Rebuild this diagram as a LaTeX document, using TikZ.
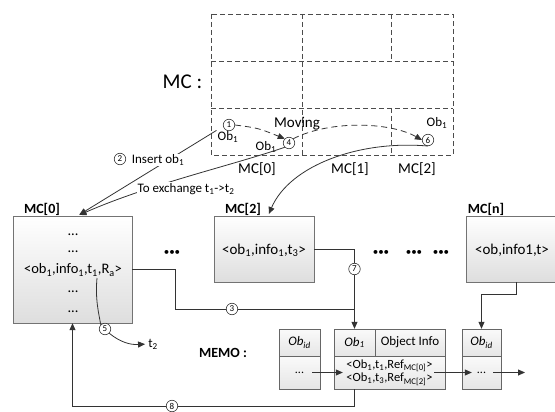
\documentclass[tikz,border=0pt]{standalone}
\usepackage{fontspec}
\setmainfont{Carlito}
\usetikzlibrary{arrows.meta}
\newcommand\myfs[1]{\fontsize{#1}{#1}\selectfont}
\begin{document}
\begin{tikzpicture}[x=1pt,y=-1pt,
  mcbox/.style={draw=black!55, top color=white, bottom color=black!13, inner sep=0pt},
  cellbox/.style={draw=black!60, top color=black!2, bottom color=black!10, inner sep=0pt},
  circ/.style={circle, draw=black!80, fill=white, inner sep=0pt, minimum size=11.5pt, font=\myfs{9}, line width=0.6pt},
  conn/.style={draw=black!80, line width=0.8pt},
  arr/.style={-{Triangle[length=7pt,width=6pt]}},
  gridline/.style={draw=black!70, line width=0.8pt, dash pattern=on 5pt off 3pt},
  dline/.style={draw=black!80, line width=0.8pt, dash pattern=on 6pt off 4pt},
  txt/.style={inner sep=1pt, font=\myfs{13}},
  big/.style={inner sep=1pt, font=\myfs{15}},
  lbl/.style={inner sep=1pt, font=\bfseries\myfs{14}},
]
\useasboundingbox (0,0) rectangle (555,412);
\clip (0,0) rectangle (555,412);

% ---------- grid MC ----------
\draw[gridline] (211,14) rectangle (453,155);
\draw[gridline] (211,61) -- (453,61);
\draw[gridline] (211,108) -- (453,108);
\draw[gridline] (302,14) -- (302,155);
\draw[gridline] (391,14) -- (391,61);
\draw[gridline] (391,108) -- (391,155);
\node[inner sep=1pt, font=\myfs{21}] (mclbl) at (182.5,82) {MC :};
\node[big] (g0) at (257,169) {MC[0]};
\node[big] (g1) at (350,169) {MC[1]};
\node[big] (g2) at (417,169) {MC[2]};
\node[big] (moving) at (297,124) {Moving};
\node[txt] (ob1a) at (228,137) {Ob\textsubscript{1}};
\node[txt] (ob1b) at (266,147) {Ob\textsubscript{1}};
\node[txt] (ob1c) at (437,123) {Ob\textsubscript{1}};
\node[circ] (c1) at (229,125) {1};
\node[circ] (c4) at (289,143) {4};
\node[circ] (c6) at (428,140) {6};

% ---------- MC boxes ----------
\node[mcbox, minimum width=119pt, minimum height=107pt] (mc0) at (72.5,269.5) {};
\node[mcbox, minimum width=100pt, minimum height=66pt] (mc2) at (264,249) {};
\node[mcbox, minimum width=114pt, minimum height=66pt] (mcn) at (523,249) {};
\node[lbl] (mc0l) at (42,209) {MC[0]};
\node[lbl] (mc2l) at (243,209) {MC[2]};
\node[lbl] (mcnl) at (486,209) {MC[n]};
\node[inner sep=1pt, font=\myfs{14.5}] (m0a) at (73,235) {...};
\node[inner sep=1pt, font=\myfs{14.5}] (m0b) at (73,252) {...};
\node[inner sep=1pt, font=\myfs{14.5}] (m0c) at (73,270) {<ob\textsubscript{1},info\textsubscript{1},t\textsubscript{1},R\textsubscript{a}>};
\node[inner sep=1pt, font=\myfs{14.5}] (m0d) at (73,292) {...};
\node[inner sep=1pt, font=\myfs{14.5}] (m0e) at (73,312) {...};
\node[inner sep=1pt, font=\myfs{15}] (m2t) at (264,250) {<ob\textsubscript{1},info\textsubscript{1},t\textsubscript{3}>};
\node[inner sep=1pt, font=\myfs{15}] (mnt) at (512,250) {<ob,info1,t>};
\node[inner sep=0pt, font=\myfs{11}] (dots1) at (172,253) {•••};
\node[inner sep=0pt, font=\myfs{11}] (dots2) at (381,253) {•••};
\node[inner sep=0pt, font=\myfs{11}] (dots3) at (414,253) {•••};
\node[inner sep=0pt, font=\myfs{11}] (dots4) at (441,253) {•••};

% ---------- MEMO ----------
\node[lbl] (memo) at (223,353) {MEMO :};
\node[cellbox, minimum width=41pt, minimum height=27pt, font=\itshape\myfs{13}] (o1t) at (299.5,342.5) {Ob\textsubscript{id}};
\node[cellbox, minimum width=41pt, minimum height=33pt, font=\myfs{12}] (o1b) at (299.5,372.5) {...};
\node[cellbox, minimum width=41pt, minimum height=27pt, font=\itshape\myfs{13}] (obt) at (354.5,342.5) {Ob\textsubscript{1}};
\node[cellbox, minimum width=70pt, minimum height=27pt, font=\myfs{13}] (oit) at (410,342.5) {Object Info};
\node[cellbox, minimum width=111pt, minimum height=33pt, font=\myfs{12.5}, align=center] (obb) at (389.5,372.5)
  {<Ob\textsubscript{1},t\textsubscript{1},Ref\textsubscript{MC[0]}>\\[1pt]<Ob\textsubscript{1},t\textsubscript{3},Ref\textsubscript{MC[2]}>};
\node[cellbox, minimum width=39pt, minimum height=27pt, font=\itshape\myfs{13}] (o3t) at (481.5,342.5) {Ob\textsubscript{id}};
\node[cellbox, minimum width=39pt, minimum height=33pt, font=\myfs{12}] (o3b) at (481.5,372.5) {...};
\coordinate (memoend) at (525,372.5);

% ---------- connectors ----------
\draw[dline, arr] (c1.east) .. controls (258,128) .. (c4.north west);
\draw[dline, arr] (c4.north east) .. controls (330,120) and (390,122) .. (c6.west);

\draw[conn, arr, shorten >=2pt] (ob1a.north west) -- ([xshift=5pt]mc0.north);
\draw[conn, arr, shorten >=2pt] (c4.south west) .. controls (230,166) and (150,184) .. ([xshift=5pt]mc0.north);
\draw[conn, arr, shorten >=2pt] (c6.south) .. controls (360,140) and (290,165) .. ([xshift=4pt]mc2.north);
\node[txt, fill=white] (inslbl) at (158,160) {Insert ob\textsubscript{1}};
\node[circ] (c2) at (120,159) {2};
\node[txt, fill=white] (exlbl) at (186,189) {To exchange t\textsubscript{1}->t\textsubscript{2}};

\draw[conn, arr] (mc2.east) -| (obt.north);
\node[circ] (c7) at (354.5,269) {7};
\coordinate (j3) at (354.5,309);
\draw[conn] (mc0.east) -- ++(43,0) |- (j3);
\node[circ] (c3) at (232,309) {3};

\draw[conn, arr] ([xshift=-7pt]mcn.south) -- ++(0,12) -| (o3t.north);

\draw[conn, arr] (obt.south |- obb.south) -- ++(0,17) -| (mc0.south);
\node[circ] (c8) at (172,406) {8};

\draw[conn, arr] ([xshift=-8pt]o1b.east) -- ([xshift=9pt]obb.west);
\draw[conn, arr] ([xshift=-11pt]obb.east) -- ([xshift=10pt]o3b.west);
\draw[conn, arr] ([xshift=-8pt]o3b.east) -- (memoend);

\coordinate (r5) at (97,278);
\node[circ] (c5) at (105,329) {5};
\node[txt] (t2) at (153,344) {t\textsubscript{2}};
\draw[conn] (r5) .. controls (95,300) and (99,314) .. (c5.north west);
\draw[conn, arr, shorten >=2pt] (c5.south east) .. controls (120,342) and (130,345) .. (t2.west);
\end{tikzpicture}
\end{document}
